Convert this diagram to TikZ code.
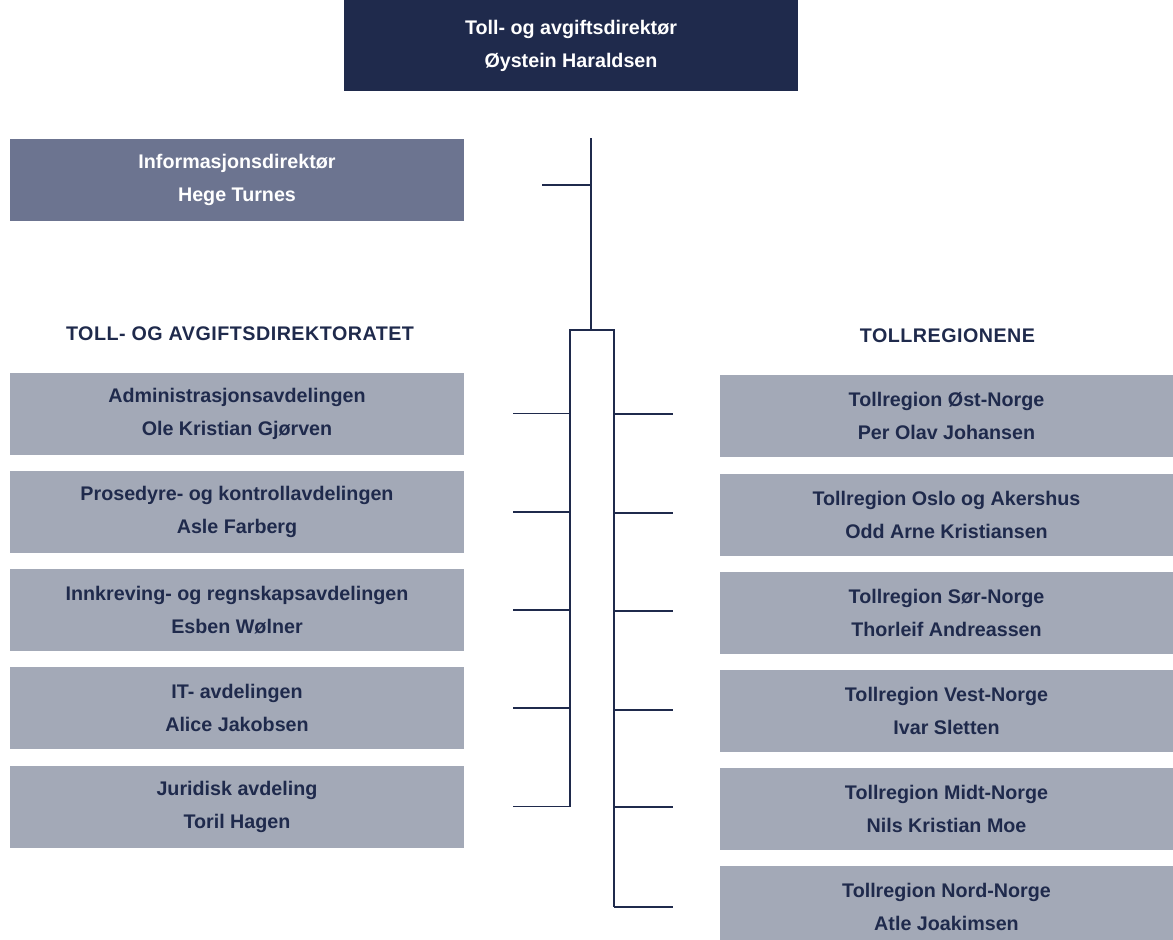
\documentclass[tikz,border=0pt]{standalone}
\usepackage{fontspec}
\setmainfont{Liberation Sans}
\usetikzlibrary{positioning}

\definecolor{marine}{HTML}{1F2A4C}
\definecolor{skifer}{HTML}{6C7490}
\definecolor{graablaa}{HTML}{A3A9B7}

\begin{document}
\begin{tikzpicture}[x=1pt, y=-1pt,
    boks/.style={
      rectangle,
      minimum width=454pt,
      minimum height=82pt,
      inner sep=0pt,
      align=center,
      font=\bfseries\fontsize{19.7}{33}\selectfont},
    ledelse/.style={boks, fill=marine, text=white},
    avdeling/.style={boks, fill=graablaa, text=marine},
    overskrift/.style={
      inner sep=0pt,
      text=marine,
      font=\bfseries\fontsize{19.7}{24}\selectfont\addfontfeatures{LetterSpace=2.5}},
    linje/.style={draw=marine, line width=1.5pt}
    ]

  \clip (0,0) rectangle (1173,940);

\node at (571,45.5) (direktor) [ledelse, minimum height=91pt] {Toll- og avgiftsdirektør\\Øystein Haraldsen};
\node at (237,180) (info) [ledelse, fill=skifer] {Informasjonsdirektør\\Hege Turnes};

\node at (240,334) (direktorat) [overskrift] {TOLL- OG AVGIFTSDIREKTORATET};
\node at (947.5,335.5) (regionene) [overskrift] {TOLLREGIONENE};

\node at (237,413.5) (avd1) [avdeling] {Administrasjonsavdelingen\\Ole Kristian Gjørven};
\node at (237,512) (avd2) [avdeling] {Prosedyre- og kontrollavdelingen\\Asle Farberg};
\node at (237,610) (avd3) [avdeling] {Innkreving- og regnskapsavdelingen\\Esben Wølner};
\node at (237,708) (avd4) [avdeling] {IT- avdelingen\\Alice Jakobsen};
\node at (237,806.5) (avd5) [avdeling] {Juridisk avdeling\\Toril Hagen};

\node at (946.5,416) (reg1) [avdeling, minimum width=453pt] {Tollregion Øst-Norge\\Per Olav Johansen};
\node at (946.5,514.5) (reg2) [avdeling, minimum width=453pt] {Tollregion Oslo og Akershus\\Odd Arne Kristiansen};
\node at (946.5,612.5) (reg3) [avdeling, minimum width=453pt] {Tollregion Sør-Norge\\Thorleif Andreassen};
\node at (946.5,710.5) (reg4) [avdeling, minimum width=453pt] {Tollregion Vest-Norge\\Ivar Sletten};
\node at (946.5,809) (reg5) [avdeling, minimum width=453pt] {Tollregion Midt-Norge\\Nils Kristian Moe};
\node at (946.5,907) (reg6) [avdeling, minimum width=453pt] {Tollregion Nord-Norge\\Atle Joakimsen};

  % stamme og klamme
  \coordinate (topp) at (591,138);
  \coordinate (deling) at (591,330);
  \coordinate (venstre) at (570,330);
  \coordinate (hoyre) at (614,330);
  \coordinate (venstrebunn) at (570,807);
  \coordinate (hoyrebunn) at (614,907);

  \draw[linje] (topp) -- (deling);
  \draw[linje] ([xshift=78pt,yshift=-5pt]info.east) -- (topp |- 0,185);
  \draw[linje] (venstrebunn) -- (venstre) -- (hoyre) -- (hoyrebunn);

  \foreach \n in {1,...,5}
    \draw[linje] ([xshift=49pt]avd\n.east) -- (venstre |- avd\n.east);
  \foreach \n/\y in {1/414,2/513,3/611,4/710,5/807,6/907}
    \draw[linje] (hoyre |- 0,\y) -- ([xshift=-47pt]reg\n.west |- 0,\y);

\end{tikzpicture}
\end{document}
